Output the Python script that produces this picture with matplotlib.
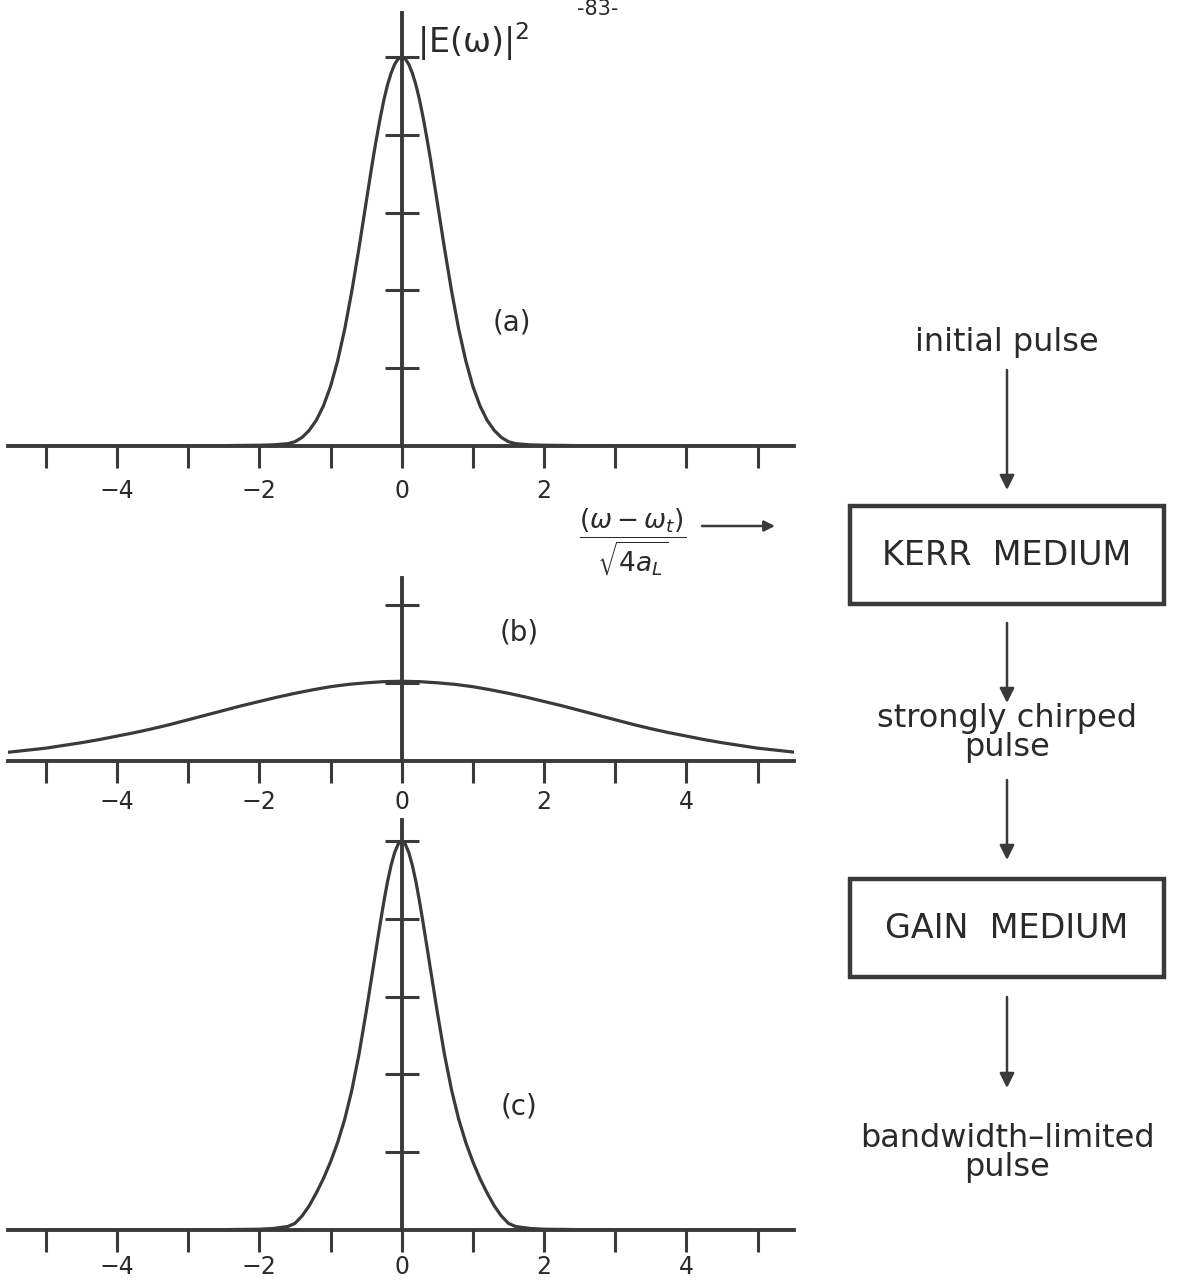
import numpy as np
import matplotlib.pyplot as plt

plt.rcParams['font.family'] = ['DejaVu Sans']
plt.rcParams['mathtext.fontset'] = 'dejavusans'

INK = '#3a3a3a'
W, H = 1177, 1282

# spectrum |E(w)|^2, read at half-axis points (curves are symmetric about 0)
x_a = [0.0, 0.05, 0.1, 0.15, 0.2, 0.25, 0.3, 0.35, 0.4, 0.5, 0.6, 0.7,
       0.8, 0.9, 1.0, 1.1, 1.2, 1.3, 1.4, 1.5, 1.6, 1.8, 2.0, 3.0, 5.6]
y_a = [1.0, 0.995, 0.981, 0.958, 0.928, 0.890, 0.845, 0.795, 0.742, 0.626,
       0.509, 0.399, 0.301, 0.219, 0.153, 0.103, 0.066, 0.040, 0.022,
       0.011, 0.006, 0.003, 0.002, 0.0, 0.0]

x_b = [0.0, 0.25, 0.5, 0.75, 1.0, 1.25, 1.5, 1.75, 2.0, 2.25, 2.5, 2.75,
       3.0, 3.25, 3.5, 3.75, 4.0, 4.25, 4.5, 4.75, 5.0, 5.25, 5.6]
y_b = [0.205, 0.204, 0.201, 0.197, 0.191, 0.183, 0.174, 0.164, 0.153,
       0.142, 0.130, 0.118, 0.106, 0.094, 0.083, 0.073, 0.064, 0.055,
       0.047, 0.040, 0.033, 0.028, 0.021]

x_c = [0.0, 0.05, 0.1, 0.15, 0.2, 0.25, 0.3, 0.35, 0.4, 0.5, 0.6, 0.7,
       0.8, 0.9, 1.0, 1.1, 1.2, 1.3, 1.4, 1.5, 1.6, 1.8, 2.0, 3.0, 5.6]
y_c = [1.0, 0.992, 0.970, 0.937, 0.895, 0.845, 0.790, 0.733, 0.675, 0.560,
       0.452, 0.360, 0.285, 0.225, 0.175, 0.132, 0.095, 0.062, 0.036,
       0.017, 0.009, 0.004, 0.002, 0.0, 0.0]

x_ticks = [-5, -4, -3, -2, -1, 0, 1, 2, 3, 4, 5]
labels_a = ['', '−4', '', '−2', '', '0', '', '2', '', '', '']
labels_bc = ['', '−4', '', '−2', '', '0', '', '2', '', '4', '']

steps = ['initial pulse', 'KERR  MEDIUM', 'strongly chirped\npulse',
         'GAIN  MEDIUM', 'bandwidth\u2013limited\npulse']

px_per_unit = 389.0


def mirror(xs, ys):
    xs = np.asarray(xs)
    ys = np.asarray(ys)
    return np.concatenate([-xs[:0:-1], xs]), np.concatenate([ys[:0:-1], ys])


def fx(px):
    return px / W


def fy(py):
    return 1 - py / H


def panel(top, base, xs, ys, yticks, xlabels, pad=8):
    ax = fig.add_axes([fx(8), fy(base), fx(794) - fx(8), (base - top) / H])
    mx, my = mirror(xs, ys)
    ax.plot(mx, my, color=INK, lw=2.3, solid_capstyle='round',
            solid_joinstyle='round', zorder=3)
    ax.set_xlim(-5.53, 5.51)
    ax.set_ylim(0, (base - top) / px_per_unit)
    for s in ['top', 'right']:
        ax.spines[s].set_visible(False)
    ax.spines['left'].set_position(('data', 0))
    for s in ['left', 'bottom']:
        ax.spines[s].set_linewidth(2.8)
        ax.spines[s].set_color(INK)
        ax.spines[s].set_zorder(4)
    ax.set_xticks(x_ticks)
    ax.set_xticklabels(xlabels)
    ax.set_yticks(yticks)
    ax.set_yticklabels([])
    ax.tick_params(axis='x', direction='out', length=16, width=2.2,
                   color=INK, labelsize=17, labelcolor='#2a2a2a', pad=pad)
    ax.tick_params(axis='y', direction='inout', length=24, width=2.2,
                   color=INK)
    ax.patch.set_alpha(0)
    return ax


fig = plt.figure(figsize=(W / 100, H / 100), dpi=100)

panel(13, 446, x_a, y_a, [0.2, 0.4, 0.6, 0.8, 1.0], labels_a)
panel(578, 761, x_b, y_b, [0.2, 0.4], labels_bc, pad=5)
panel(820, 1230, x_c, y_c, [0.2, 0.4, 0.6, 0.8, 1.0], labels_bc, pad=2)

txt = dict(color='#2a2a2a', ha='center', va='center')

# page number at the top edge
fig.text(fx(598), fy(15), '-83-', fontsize=15, color='#2a2a2a',
         ha='center', va='baseline')

fig.text(fx(417), fy(42), r'$\mathregular{|E(\omega)|^2}$', fontsize=24,
         color='#2a2a2a', ha='left', va='center')
fig.text(fx(512), fy(322), '(a)', fontsize=20, **txt)
fig.text(fx(519), fy(633), '(b)', fontsize=20, **txt)
fig.text(fx(519), fy(1106), '(c)', fontsize=20, **txt)

# axis variable with arrow
fig.text(fx(633), fy(542), r'$\dfrac{(\omega-\omega_t)}{\sqrt{4a_L}}$',
         fontsize=19, **txt)
fig.add_artist(plt.Annotation('', xy=(fx(775), fy(526)),
                              xytext=(fx(702), fy(526)),
                              xycoords='figure fraction',
                              arrowprops=dict(arrowstyle='-|>', lw=1.8,
                                              color=INK, mutation_scale=16,
                                              shrinkA=0, shrinkB=0)))

# flow chart on the right
cx = 1007
fig.text(fx(cx), fy(342), steps[0], fontsize=23, **txt)
fig.text(fx(cx), fy(733), steps[2], fontsize=23, linespacing=0.95, **txt)
fig.text(fx(cx), fy(1153), steps[4], fontsize=23, linespacing=0.95, **txt)

for (y0, y1) in [(506, 604), (879, 977)]:
    box = plt.Rectangle((fx(850), fy(y1)), fx(1164) - fx(850),
                        fy(y0) - fy(y1), transform=fig.transFigure,
                        fill=False, lw=3.2, edgecolor=INK)
    fig.add_artist(box)
fig.text(fx(cx), fy(556), steps[1], fontsize=24, **txt)
fig.text(fx(cx), fy(929), steps[3], fontsize=24, **txt)

for (y0, y1) in [(370, 490), (623, 703), (780, 860), (997, 1088)]:
    fig.add_artist(plt.Annotation('', xy=(fx(cx), fy(y1)),
                                  xytext=(fx(cx), fy(y0)),
                                  xycoords='figure fraction',
                                  arrowprops=dict(arrowstyle='-|>', lw=1.8,
                                                  color=INK,
                                                  mutation_scale=22,
                                                  shrinkA=0, shrinkB=0)))

fig.savefig('out.png', dpi=100)
